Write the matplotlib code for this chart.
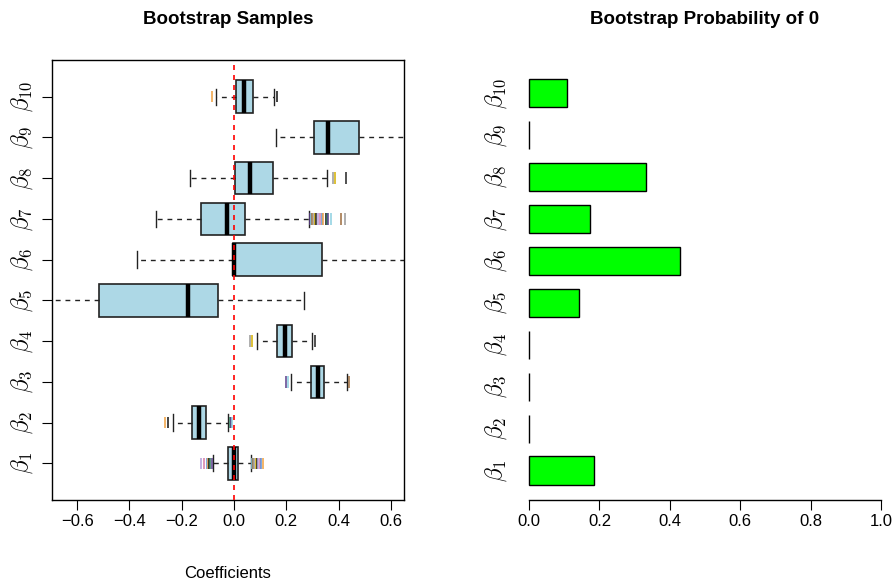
import matplotlib
matplotlib.use("Agg")
import matplotlib.pyplot as plt
import numpy as np

plt.rcParams["font.family"] = ["Liberation Sans", "DejaVu Sans"]
plt.rcParams["mathtext.fontset"] = "cm"

# Coefficient names (bottom to top)
coef_labels = [r"$\beta_{%d}$" % i for i in range(1, 11)]

# Bootstrap sample summaries per coefficient
q1 = [-0.024, -0.161, 0.294, 0.163, -0.515, -0.003, -0.126, 0.002, 0.307, 0.008]
med = [0.001, -0.134, 0.320, 0.195, -0.175, 0.000, -0.026, 0.062, 0.358, 0.039]
q3 = [0.014, -0.108, 0.345, 0.223, -0.060, 0.335, 0.042, 0.150, 0.479, 0.071]
whis_lo = [-0.079, -0.232, 0.218, 0.089, -0.760, -0.370, -0.300, -0.170, 0.160, -0.069]
whis_hi = [0.065, -0.024, 0.431, 0.299, 0.268, 0.720, 0.287, 0.354, 0.760, 0.154]
outliers = [
    [-0.125, -0.115, -0.105, -0.100, -0.095, -0.090, -0.085,
     0.068, 0.072, 0.078, 0.083, 0.088, 0.093, 0.098, 0.105, 0.110],
    [-0.264, -0.252, -0.016, -0.012, -0.008],
    [0.200, 0.206, 0.440],
    [0.061, 0.070, 0.310],
    [],
    [],
    [0.290, 0.295, 0.300, 0.305, 0.310, 0.315, 0.320, 0.330, 0.335,
     0.340, 0.350, 0.355, 0.360, 0.370, 0.410, 0.424],
    [0.379, 0.386, 0.429],
    [],
    [-0.085, 0.164],
]

# Share of bootstrap fits where the coefficient was exactly zero
prob_zero = [0.185, 0.0, 0.0, 0.0, 0.141, 0.430, 0.172, 0.332, 0.0, 0.108]

x_ticks_left = [-0.6, -0.4, -0.2, 0.0, 0.2, 0.4, 0.6]
x_ticks_right = [0.0, 0.2, 0.4, 0.6, 0.8, 1.0]

outlier_colors = ["#b39ddb", "#d97ba6", "#5b8fd6", "#f0a040", "#111111",
                  "#2e7d5b", "#5a3d8a", "#8ccfe0", "#9c6b3c", "#999999",
                  "#d4b000", "#222222"]

W, H = 895, 581
fig = plt.figure(figsize=(W / 100, H / 100), dpi=100)

# ---- left panel: boxplots of bootstrap coefficients ----
axL = fig.add_axes([52 / W, 81 / H, 352 / W, 440 / H])
positions = np.arange(1, 11)
stats = []
for i in range(10):
    stats.append(dict(med=med[i], q1=q1[i], q3=q3[i],
                      whislo=whis_lo[i], whishi=whis_hi[i], fliers=[]))
axL.bxp(stats, positions=positions, vert=False, widths=0.8,
        patch_artist=True, showfliers=False,
        boxprops=dict(facecolor="#ADD8E6", edgecolor="#222222", linewidth=1.2),
        medianprops=dict(color="black", linewidth=3.2, solid_capstyle="butt"),
        whiskerprops=dict(color="#222222", linewidth=1.0, linestyle=(0, (3.5, 3.5))),
        capprops=dict(color="#222222", linewidth=1.0),
        capwidths=0.4)
for i, vals in enumerate(outliers):
    if not vals:
        continue
    cols = [outlier_colors[(i * 3 + k) % len(outlier_colors)] for k in range(len(vals))]
    axL.scatter(vals, [positions[i]] * len(vals), marker="|", s=70,
                c=cols, linewidths=1.1, zorder=3)
axL.axvline(0, color="red", linestyle=(0, (3, 3)), linewidth=1.2, zorder=4)
axL.set_xlim(-0.696, 0.650)
axL.set_ylim(0.1, 10.9)
axL.set_xticks(x_ticks_left)
axL.set_xticklabels(["\u22120.6", "\u22120.4", "\u22120.2", "0.0", "0.2", "0.4", "0.6"])
axL.set_yticks(positions)
axL.set_yticklabels(coef_labels, rotation=90, va="center", fontsize=17)
axL.tick_params(axis="x", length=7, labelsize=12, pad=3)
axL.tick_params(axis="y", length=7, pad=5)
for sp in axL.spines.values():
    sp.set_linewidth(1.0)
axL.set_xlabel("Coefficients", fontsize=12, labelpad=27)
axL.set_title("Bootstrap Samples", fontsize=13.5, fontweight="bold", pad=26)

# ---- right panel: probability of a zero coefficient ----
axR = fig.add_axes([515 / W, 81 / H, 380 / W, 440 / H])
axR.barh(positions, prob_zero, height=0.67, color="#00FF00",
         edgecolor="black", linewidth=1.0)
axR.set_xlim(-0.04, 1.04)
axR.set_ylim(0.297, 10.79)
for s in ["top", "right", "left"]:
    axR.spines[s].set_visible(False)
axR.spines["bottom"].set_bounds(0, 1)
axR.spines["bottom"].set_linewidth(1.0)
axR.set_xticks(x_ticks_right)
axR.set_xticklabels(["0.0", "0.2", "0.4", "0.6", "0.8", "1.0"])
axR.set_yticks(positions)
axR.set_yticklabels(coef_labels, rotation=90, va="center", fontsize=17)
axR.tick_params(axis="x", length=7, labelsize=12, pad=3)
axR.tick_params(axis="y", length=0, pad=4)
axR.set_title("Bootstrap Probability of 0", fontsize=13.5, fontweight="bold", pad=26)

fig.savefig("out.png", dpi=100)
